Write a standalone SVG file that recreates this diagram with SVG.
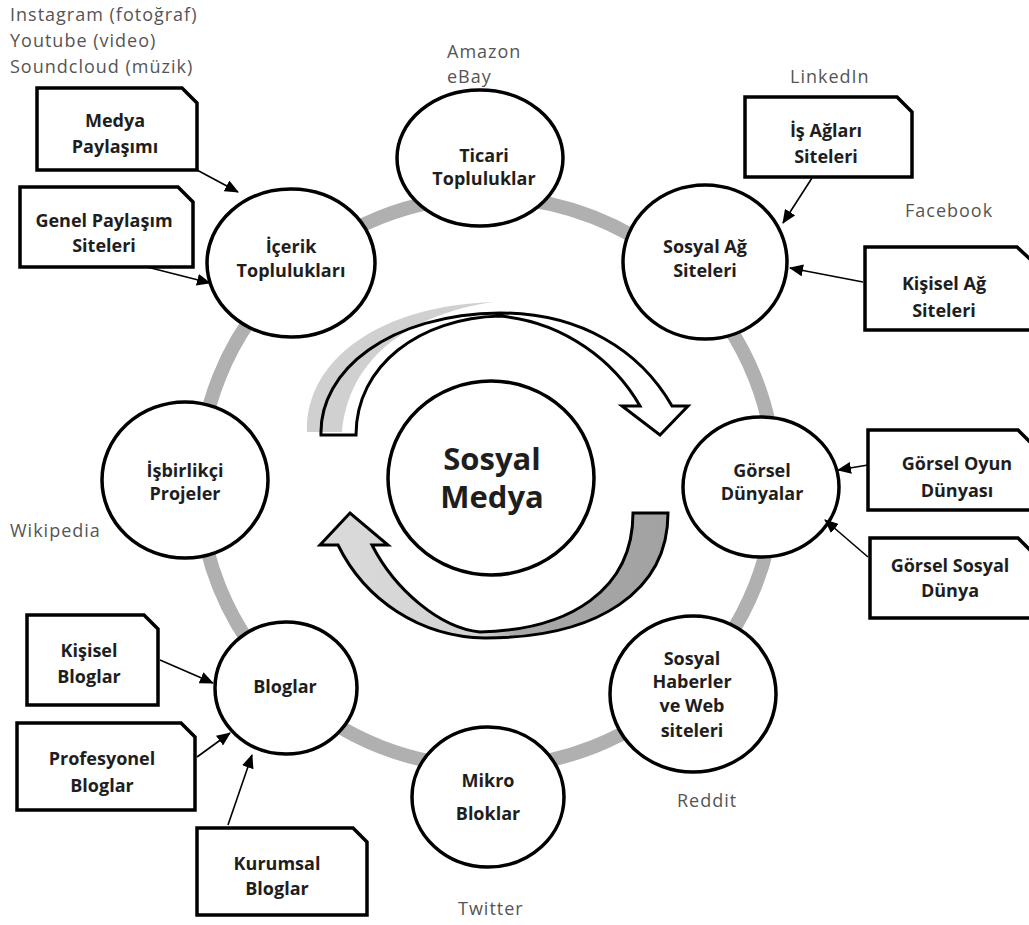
<svg xmlns="http://www.w3.org/2000/svg" width="1029" height="925" viewBox="0 0 1029 925">
<defs>
<style>
.node ellipse{fill:#fff;stroke:#000;stroke-width:3.5}
.box path{fill:#fff;stroke:#000;stroke-width:3.5;stroke-linejoin:miter}
.t{font-family:"Open Sans","Liberation Sans",sans-serif;font-weight:bold;font-size:18px;fill:#1e1e1e;text-anchor:middle}
.big{font-size:31px}
.lbl{font-family:"Open Sans","Liberation Sans",sans-serif;font-size:18px;letter-spacing:1px;fill:#555}
.con line{stroke:#000;stroke-width:1.6;marker-end:url(#ah)}
</style>
<marker id="ah" markerUnits="userSpaceOnUse" markerWidth="14" markerHeight="12" refX="13" refY="6" orient="auto" viewBox="0 0 14 12"><path d="M0,0 L14,6 L0,12 Z" fill="#000"/></marker>
<linearGradient id="botg" gradientUnits="userSpaceOnUse" x1="330" y1="0" x2="670" y2="0">
<stop offset="0" stop-color="#dadada"/><stop offset="0.45" stop-color="#d2d2d2"/><stop offset="0.55" stop-color="#a8a8a8"/><stop offset="1" stop-color="#a2a2a2"/>
</linearGradient>
</defs>

<g id="ring">
<ellipse cx="487" cy="482" rx="288" ry="285" fill="none" stroke="#b0b0b0" stroke-width="14"/>
</g>

<g id="cycle-arrows">
<path d="M321,435 C319,370 390,314 500,313 C580,313 640,350 672,406 L688,406 L660,435 L622,406 L640,406 C615,362 565,322 500,316 C420,318 356,365 356,435 Z" fill="#fff" stroke="none"/>
<path d="M307,432 C305,360 380,305 495,302 C430,310 350,345 342,432 Z" fill="#d0d0d0"/>
<path d="M321,435 C319,370 390,314 500,313 C580,313 640,350 672,406 L688,406 L660,435 L622,406 L640,406 C615,362 565,322 500,316 C420,318 356,365 356,435 Z" fill="none" stroke="#000" stroke-width="3"/>
<path d="M668,513 C668,590 600,638 485,638 C420,637 365,600 338,545 L320,545 L350,513 L388,545 L372,545 C395,590 440,628 480,632 C570,630 633,590 633,513 Z" fill="url(#botg)" stroke="#000" stroke-width="3"/>
</g>

<g id="center" class="node">
<ellipse cx="491" cy="478" rx="103" ry="97"/>
<text class="t big" x="492" y="470">Sosyal</text>
<text class="t big" x="492" y="508">Medya</text>
</g>

<g id="ticari" class="node">
<ellipse cx="480" cy="158" rx="83" ry="68"/>
<text class="t" x="484" y="162">Ticari</text>
<text class="t" x="484" y="185">Topluluklar</text>
</g>

<g id="icerik" class="node">
<ellipse cx="291" cy="263" rx="84" ry="74"/>
<text class="t" x="291" y="253">İçerik</text>
<text class="t" x="291" y="277">Toplulukları</text>
</g>

<g id="sosyal-ag" class="node">
<ellipse cx="705" cy="262" rx="82" ry="77"/>
<text class="t" x="705" y="253">Sosyal Ağ</text>
<text class="t" x="705" y="277">Siteleri</text>
</g>

<g id="gorsel" class="node">
<ellipse cx="761" cy="487" rx="78" ry="70"/>
<text class="t" x="762" y="477">Görsel</text>
<text class="t" x="762" y="500">Dünyalar</text>
</g>

<g id="haberler" class="node">
<ellipse cx="693" cy="694" rx="83" ry="78"/>
<text class="t" x="692" y="665">Sosyal</text>
<text class="t" x="692" y="688">Haberler</text>
<text class="t" x="692" y="712">ve Web</text>
<text class="t" x="692" y="737">siteleri</text>
</g>

<g id="mikro" class="node">
<ellipse cx="488" cy="797" rx="76" ry="70"/>
<text class="t" x="488" y="787">Mikro</text>
<text class="t" x="488" y="820">Bloklar</text>
</g>

<g id="bloglar" class="node">
<ellipse cx="286" cy="688" rx="71" ry="66"/>
<text class="t" x="285" y="693">Bloglar</text>
</g>

<g id="isbirlikci" class="node">
<ellipse cx="185" cy="480" rx="83" ry="78"/>
<text class="t" x="185" y="477">İşbirlikçi</text>
<text class="t" x="185" y="500">Projeler</text>
</g>

<g id="box-medya" class="box">
<path d="M37,88 H182 L197,103 V170 H37 Z"/>
<text class="t" x="115" y="127">Medya</text>
<text class="t" x="115" y="153">Paylaşımı</text>
</g>
<g id="box-genel" class="box">
<path d="M20,187 H178 L193,202 V267 H20 Z"/>
<text class="t" x="104" y="227">Genel Paylaşım</text>
<text class="t" x="104" y="252">Siteleri</text>
</g>
<g id="box-isaglari" class="box">
<path d="M745,97 H897 L912,112 V177 H745 Z"/>
<text class="t" x="826" y="137">İş Ağları</text>
<text class="t" x="826" y="163">Siteleri</text>
</g>
<g id="box-kisiselag" class="box">
<path d="M865,247 H1017 L1031,260 V330 H865 Z"/>
<text class="t" x="944" y="290">Kişisel Ağ</text>
<text class="t" x="944" y="317">Siteleri</text>
</g>
<g id="box-oyun" class="box">
<path d="M868,430 H1018 L1031,443 V510 H868 Z"/>
<text class="t" x="957" y="470">Görsel Oyun</text>
<text class="t" x="957" y="497">Dünyası</text>
</g>
<g id="box-gsosyal" class="box">
<path d="M870,538 H1018 L1031,551 V618 H870 Z"/>
<text class="t" x="950" y="572">Görsel Sosyal</text>
<text class="t" x="950" y="597">Dünya</text>
</g>
<g id="box-kblog" class="box">
<path d="M27,615 H144 L158,629 V705 H27 Z"/>
<text class="t" x="89" y="657">Kişisel</text>
<text class="t" x="89" y="683">Bloglar</text>
</g>
<g id="box-pblog" class="box">
<path d="M17,723 H181 L195,737 V810 H17 Z"/>
<text class="t" x="102" y="765">Profesyonel</text>
<text class="t" x="102" y="792">Bloglar</text>
</g>
<g id="box-kurblog" class="box">
<path d="M197,828 H353 L367,842 V915 H197 Z"/>
<text class="t" x="277" y="870">Kurumsal</text>
<text class="t" x="277" y="895">Bloglar</text>
</g>

<g id="connectors" class="con">
<line x1="197" y1="170" x2="238" y2="192"/>
<line x1="147" y1="267" x2="210" y2="283"/>
<line x1="812" y1="178" x2="783" y2="223"/>
<line x1="863" y1="282" x2="790" y2="268"/>
<line x1="868" y1="465" x2="838" y2="470"/>
<line x1="868" y1="557" x2="825" y2="520"/>
<line x1="160" y1="660" x2="213" y2="683"/>
<line x1="197" y1="757" x2="230" y2="733"/>
<line x1="228" y1="825" x2="252" y2="755"/>
</g>

<g id="labels">
<text class="lbl" x="10" y="21">Instagram (fotoğraf)</text>
<text class="lbl" x="10" y="47">Youtube (video)</text>
<text class="lbl" x="10" y="73">Soundcloud (müzik)</text>
<text class="lbl" x="447" y="58">Amazon</text>
<text class="lbl" x="447" y="83">eBay</text>
<text class="lbl" x="790" y="83">LinkedIn</text>
<text class="lbl" x="905" y="217">Facebook</text>
<text class="lbl" x="10" y="537">Wikipedia</text>
<text class="lbl" x="677" y="807">Reddit</text>
<text class="lbl" x="458" y="915">Twitter</text>
</g>
</svg>
